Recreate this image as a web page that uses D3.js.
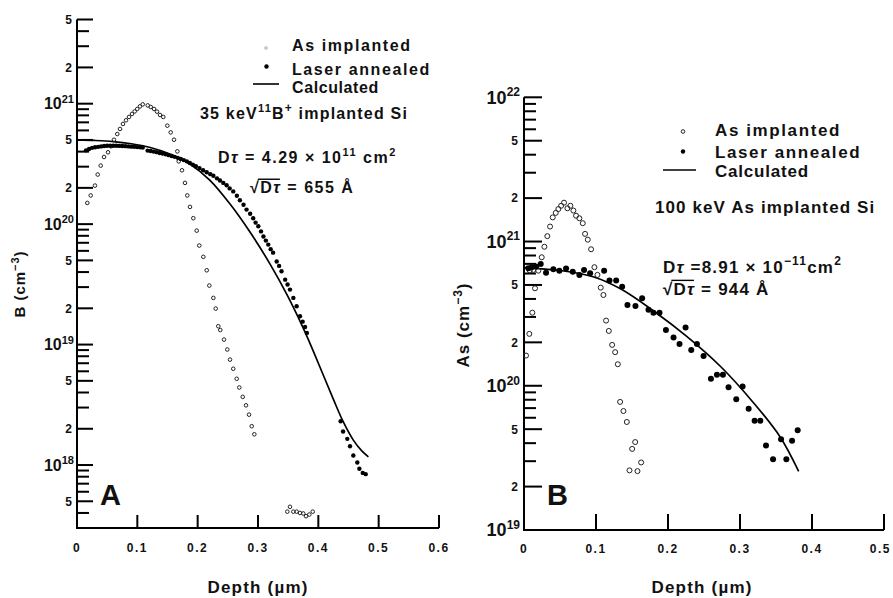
<!DOCTYPE html>
<html><head><meta charset="utf-8">
<script src="https://cdn.jsdelivr.net/npm/d3@7"></script>
<style>
body{margin:0;background:#fff}
text{font-family:"Liberation Sans",Arial,sans-serif;font-weight:bold;fill:#111}
</style>
</head><body>
<svg id="c" width="893" height="598"></svg>
<script>
// ---------------- DATA ----------------
// Panel A: 35 keV 11B+ implanted Si
const aImplDepth = [0.0171,0.0227,0.0298,0.0343,0.0393,0.0448,0.0514,0.0564,0.0613,0.0668,0.0713,0.0762,0.0812,0.0862,0.0912,0.0956,0.0999,0.1044,0.1089,0.1172,0.1222,0.1277,0.1326,0.1376,0.1430,0.1497,0.1553,0.1608,0.1663,0.1686,0.1740,0.1790,0.1828,0.1873,0.1928,0.1984,0.2027,0.2094,0.2150,0.2193,0.2260,0.2299,0.2342,0.2375,0.2437,0.2491,0.2536,0.2590,0.2647,0.2690,0.2747,0.2801,0.2851,0.2896,0.2939,0.3486,0.3530,0.3586,0.3640,0.3696,0.3750,0.3796,0.3850,0.3907];
const aImplConc  = [1.5e20,1.73e20,2.09e20,2.58e20,3.06e20,3.61e20,3.95e20,4.43e20,5.02e20,5.6e20,6.17e20,6.79e20,7.28e20,7.76e20,8.22e20,8.63e20,9.04e20,9.5e20,9.87e20,9.68e20,9.39e20,9.04e20,8.59e20,8.06e20,7.76e20,6.57e20,5.78e20,5.02e20,4.02e20,3.32e20,2.8e20,2.2e20,1.73e20,1.39e20,1.12e20,8.83e19,6.64e19,5.35e19,4.14e19,3.09e19,2.44e19,1.99e19,1.42e19,1.32e19,1.1e19,9.1e18,7.5e18,6.3e18,5.2e18,4.4e18,3.68e18,3.13e18,2.62e18,2.1e18,1.8e18,4.1e17,4.5e17,4.1e17,4.1e17,4.0e17,3.96e17,3.76e17,3.88e17,4.1e17];
const aLaserDepth = [0.015,0.020,0.025,0.030,0.035,0.040,0.045,0.050,0.055,0.060,0.065,0.070,0.075,0.080,0.085,0.090,0.095,0.100,0.105,0.109,0.117,0.122,0.127,0.132,0.137,0.142,0.147,0.152,0.157,0.162,0.167,0.172,0.177,0.182,0.187,0.192,0.197,0.203,0.209,0.215,0.221,0.226,0.232,0.237,0.2425,0.248,0.253,0.259,0.265,0.270,0.276,0.281,0.287,0.292,0.296,0.3005,0.305,0.309,0.313,0.317,0.321,0.325,0.331,0.335,0.339,0.345,0.349,0.353,0.3586,0.364,0.3696,0.374,0.378,0.381,0.437,0.441,0.448,0.4525,0.458,0.4646,0.468,0.4736,0.4785];
const aLaserConc  = [4.1e20,4.2e20,4.3e20,4.35e20,4.38e20,4.42e20,4.45e20,4.48e20,4.48e20,4.48e20,4.47e20,4.46e20,4.45e20,4.44e20,4.42e20,4.4e20,4.38e20,4.36e20,4.34e20,4.32e20,4.08e20,4.05e20,4.0e20,3.96e20,3.9e20,3.85e20,3.8e20,3.74e20,3.68e20,3.62e20,3.55e20,3.48e20,3.4e20,3.32e20,3.22e20,3.12e20,3.02e20,2.92e20,2.8e20,2.7e20,2.6e20,2.52e20,2.4e20,2.3e20,2.2e20,2.1e20,1.98e20,1.87e20,1.72e20,1.58e20,1.45e20,1.32e20,1.22e20,1.12e20,1.03e20,9.6e19,8.7e19,7.9e19,7.3e19,6.76e19,6.2e19,5.8e19,4.9e19,4.5e19,4.06e19,3.46e19,3.15e19,2.86e19,2.44e19,2.08e19,1.72e19,1.55e19,1.4e19,1.25e19,2.31e18,1.9e18,1.65e18,1.43e18,1.2e18,1.05e18,9.3e17,8.6e17,8.4e17];
const aCalcDepth = [0,0.03,0.06,0.09,0.12,0.154,0.187,0.22,0.254,0.287,0.32,0.348,0.375,0.392,0.425,0.441,0.458,0.472,0.483];
const aCalcConc  = [5.0e20,4.95e20,4.85e20,4.65e20,4.35e20,3.82e20,3.15e20,2.32e20,1.46e20,8.55e19,4.66e19,2.6e19,1.37e19,8.74e18,3.51e18,2.3e18,1.61e18,1.31e18,1.17e18];

// Panel B: 100 keV As implanted Si
const bImplDepth = [0.0028,0.0074,0.0116,0.0153,0.0080,0.0130,0.0199,0.0246,0.0283,0.0324,0.0362,0.0399,0.0441,0.0477,0.0515,0.0556,0.0603,0.0644,0.0686,0.0723,0.0769,0.0816,0.0848,0.0886,0.0932,0.0978,0.1020,0.1066,0.1103,0.1140,0.1178,0.1224,0.1266,0.1303,0.1335,0.1381,0.1428,0.1502,0.1544,0.1627,0.1465,0.1576];
const bImplConc  = [1.62e20,2.29e20,3.21e20,4.74e20,6.3e20,6.36e20,6.28e20,7.78e20,9.2e20,1.09e21,1.27e21,1.47e21,1.58e21,1.68e21,1.77e21,1.86e21,1.70e21,1.77e21,1.64e21,1.51e21,1.45e21,1.34e21,1.13e21,1.03e21,8.84e20,6.64e20,5.87e20,4.79e20,4.26e20,2.83e20,2.4e20,1.92e20,1.71e20,1.41e20,7.73e19,6.68e19,5.61e19,3.65e19,4.07e19,2.94e19,2.59e19,2.56e19];
const bLaserDepth = [0.0060,0.0107,0.0167,0.0232,0.0306,0.0408,0.0491,0.0584,0.0677,0.0769,0.0834,0.0918,0.1113,0.1187,0.1280,0.1363,0.1437,0.1548,0.1641,0.1729,0.1798,0.1882,0.1971,0.2077,0.2160,0.2244,0.2323,0.2402,0.2494,0.2596,0.2680,0.2763,0.2841,0.2948,0.3036,0.3120,0.3203,0.3282,0.3361,0.3459,0.3570,0.3644,0.3723,0.3801];
const bLaserConc  = [6.53e20,6.64e20,6.7e20,7.0e20,6.08e20,6.42e20,6.28e20,6.49e20,6.18e20,5.87e20,6.36e20,6.03e20,6.28e20,5.36e20,5.36e20,4.86e20,3.63e20,3.57e20,4.04e20,3.36e20,3.21e20,3.21e20,2.44e20,2.16e20,1.95e20,2.53e20,1.77e20,1.95e20,1.61e20,1.12e20,1.19e20,1.19e20,9.77e19,8.06e19,9.9e19,6.94e19,5.73e19,5.73e19,3.85e19,3.09e19,4.26e19,3.09e19,4.16e19,4.91e19];
const bCalcDepth = [0,0.05,0.096,0.134,0.18,0.226,0.273,0.319,0.356,0.3815];
const bCalcConc  = [6.6e20,6.3e20,5.7e20,4.7e20,3.3e20,2.2e20,1.36e20,7.6e19,4.4e19,2.55e19];

// Tick labels
const aXTicks = [0,0.1,0.2,0.3,0.4,0.5,0.6];
const aXTickLabels = ["0","0.1","0.2","0.3","0.4","0.5","0.6"];
const bXTicks = [0,0.1,0.2,0.3,0.4,0.5];
const bXTickLabels = ["0","0.1","0.2","0.3","0.4","0.5"];
const aYLabeled = [5e21,2e21,1e21,5e20,2e20,1e20,5e19,2e19,1e19,5e18,2e18,1e18,5e17];
const bYLabeled = [1e22,5e21,2e21,1e21,5e20,2e20,1e20,5e19,2e19,1e19];
const aYMinor = [4e21,3e21,9e20,8e20,7e20,6e20,4e20,3e20,9e19,8e19,7e19,6e19,4e19,3e19,9e18,8e18,7e18,6e18,4e18,3e18,9e17,8e17,7e17,6e17,4e17];
const bYMinor = [9e21,8e21,7e21,6e21,4e21,3e21,9e20,8e20,7e20,6e20,4e20,3e20,9e19,8e19,7e19,6e19,4e19,3e19];

// ---------------- DRAWING ----------------
const svg = d3.select("#c");
const INK = "#000";

function rich(g, x, y, parts, size, opts) {
  opts = opts || {};
  const t = g.append("text").attr("x", x).attr("y", y).attr("font-size", size);
  if (opts.anchor) t.attr("text-anchor", opts.anchor);
  if (opts.ls != null) t.attr("letter-spacing", opts.ls);
  if (opts.transform) t.attr("transform", opts.transform);
  let raise = 0;
  parts.forEach(p => {
    const s = t.append("tspan").text(p.t);
    const r = p.sup ? (p.raise || size * 0.42) : 0;
    s.attr("dy", -(r - raise));
    raise = r;
    if (p.sup) s.attr("font-size", p.size || size * 0.72);
    if (p.size && !p.sup) s.attr("font-size", p.size);
    if (p.it) s.attr("font-style", "italic");
  });
  return t;
}

function sqrtText(g, x, y, rest, size, ls) {
  const t = g.append("text").attr("x", x).attr("y", y).attr("font-size", size).attr("letter-spacing", ls);
  t.append("tspan").text("\u221A");
  t.append("tspan").text("D");
  t.append("tspan").attr("font-style", "italic").text("\u03C4");
  t.append("tspan").text(rest);
  const node = t.node();
  const e0 = node.getExtentOfChar(0), e2 = node.getExtentOfChar(2);
  const ly = y - size * 0.86;
  g.append("path").attr("d", `M${e0.x + e0.width - ls - 1},${ly}H${e2.x + e2.width - ls}`)
    .attr("stroke", INK).attr("stroke-width", 1.4).attr("fill", "none");
}

function panel(cfg) {
  const g = svg.append("g");
  const x = d3.scaleLinear().domain(cfg.xDomain).range(cfg.xRange);
  const y = d3.scaleLog().domain(cfg.yDomain).range(cfg.yRange);
  const x0 = x(0), yb = y(cfg.yDomain[0]);

  // ticks as small filled rectangles
  const yT = cfg.yLabeled.map(v => ({v: v, len: cfg.majorLen})).concat(cfg.yMinor.map(v => ({v: v, len: cfg.minorLen})));
  g.selectAll("rect.yt").data(yT).join("rect").attr("class", "yt")
    .attr("x", x0).attr("y", d => y(d.v) - 1).attr("width", d => d.len).attr("height", 2).attr("fill", INK);
  g.selectAll("rect.xt").data(cfg.xTicks.filter(v => v > 0)).join("rect").attr("class", "xt")
    .attr("x", d => x(d) - 1).attr("y", yb - cfg.xTickLen).attr("width", 2).attr("height", cfg.xTickLen).attr("fill", INK);
  // axis lines
  g.append("path").attr("d", `M${x0},${y(cfg.yDomain[1])}V${yb}H${x(cfg.xDomain[1])}`)
    .attr("fill", "none").attr("stroke", INK).attr("stroke-width", 2);

  // y labels
  cfg.yLabeled.forEach(v => {
    const e = Math.floor(Math.log10(v) + 1e-9), m = Math.round(v / Math.pow(10, e));
    if (m === 1) {
      rich(g, x0 - cfg.labelGap + 2, y(v) + cfg.decSize * 0.36,
        [{t: "10"}, {t: String(e), sup: true, size: cfg.expSize, raise: cfg.decSize * 0.42}], cfg.decSize, {anchor: "end"});
    } else {
      g.append("text").attr("x", x0 - cfg.labelGap).attr("y", y(v) + cfg.minSize * 0.36)
        .attr("text-anchor", "end").attr("font-size", cfg.minSize).text(String(m));
    }
  });
  // x labels
  cfg.xTicks.forEach((v, i) => {
    const t = g.append("text").attr("x", x(v)).attr("y", cfg.xLabelY).attr("text-anchor", "middle")
      .attr("font-size", 12).attr("letter-spacing", 1.5).text(cfg.xTickLabels[i]);
    const w = t.node().getComputedTextLength();
    if (x(v) + w / 2 > 891) t.attr("text-anchor", "end").attr("x", 891);
  });
  // axis titles
  rich(g, (cfg.xRange[0] + cfg.xRange[1]) / 2 + cfg.xTitleShift, 593, [{t: "Depth (\u00B5m)"}], 17, {anchor: "middle", ls: 1.2});
  rich(g, 0, 0, cfg.yTitle, cfg.yTitleSize, {anchor: "middle", ls: 1, transform: `translate(${cfg.yTitleX},${cfg.yTitleY}) rotate(-90)`});

  // data
  const line = d3.line().x(d => x(d[0])).y(d => y(d[1])).curve(d3.curveCatmullRom.alpha(0.5));
  g.append("path").datum(d3.zip(cfg.calcD, cfg.calcC)).attr("d", line)
    .attr("fill", "none").attr("stroke", INK).attr("stroke-width", 1.7);
  g.selectAll(".impl").data(d3.zip(cfg.implD, cfg.implC)).join("circle").attr("class", "impl")
    .attr("cx", d => x(d[0])).attr("cy", d => y(d[1])).attr("r", cfg.openR)
    .attr("fill", "none").attr("stroke", "#222").attr("stroke-width", 1);
  g.selectAll(".laser").data(d3.zip(cfg.laserD, cfg.laserC)).join("circle").attr("class", "laser")
    .attr("cx", d => x(d[0])).attr("cy", d => y(d[1])).attr("r", cfg.dotR).attr("fill", INK);

  g.append("text").attr("x", cfg.letterX).attr("y", cfg.letterY).attr("font-size", 29).text(cfg.letter);
  return g;
}

panel({
  xDomain: [0, 0.6], xRange: [77, 439], yDomain: [3e17, 5e21], yRange: [528, 19.5],
  xTicks: aXTicks, xTickLabels: aXTickLabels, yLabeled: aYLabeled, yMinor: aYMinor,
  minorLen: 12, majorLen: 16, xTickLen: 13, labelGap: 5, decSize: 16, expSize: 11, minSize: 12,
  xLabelY: 552, xTitleShift: 0,
  yTitle: [{t: "B  (cm"}, {t: "\u22123", sup: true, size: 11, raise: 6}, {t: ")"}], yTitleSize: 15, yTitleX: 25, yTitleY: 284,
  implD: aImplDepth, implC: aImplConc, laserD: aLaserDepth, laserC: aLaserConc, calcD: aCalcDepth, calcC: aCalcConc,
  openR: 1.8, dotR: 2.2, letter: "A", letterX: 100, letterY: 505
});
panel({
  xDomain: [0, 0.5], xRange: [524, 884], yDomain: [1e19, 1e22], yRange: [530, 97.3],
  xTicks: bXTicks, xTickLabels: bXTickLabels, yLabeled: bYLabeled, yMinor: bYMinor,
  minorLen: 12, majorLen: 18, xTickLen: 16, labelGap: 6, decSize: 18, expSize: 12, minSize: 12,
  xLabelY: 553, xTitleShift: -2,
  yTitle: [{t: "As  (cm"}, {t: "\u22123", sup: true, size: 12, raise: 7}, {t: ")"}], yTitleSize: 17, yTitleX: 469, yTitleY: 325,
  implD: bImplDepth, implC: bImplConc, laserD: bLaserDepth, laserC: bLaserConc, calcD: bCalcDepth, calcC: bCalcConc,
  openR: 2.5, dotR: 3, letter: "B", letterX: 547, letterY: 505
});

// Legends and annotations, panel A
const lA = svg.append("g");
lA.append("circle").attr("cx", 266).attr("cy", 48).attr("r", 1.3).attr("fill", "none").attr("stroke", "#999").attr("stroke-width", 0.8);
lA.append("circle").attr("cx", 266.5).attr("cy", 66.5).attr("r", 2.2).attr("fill", INK);
lA.append("path").attr("d", "M253,84H279").attr("stroke", INK).attr("stroke-width", 1.6);
rich(lA, 292, 51, [{t: "As implanted"}], 16, {ls: 1.6});
rich(lA, 292, 75, [{t: "Laser annealed"}], 16, {ls: 1.6});
rich(lA, 292, 93, [{t: "Calculated"}], 16, {ls: 0.6});
rich(lA, 200, 119, [{t: "35 keV"}, {t: "11", sup: true, size: 11, raise: 7}, {t: "B"}, {t: "+", sup: true, size: 12, raise: 7}, {t: " implanted Si"}], 16, {ls: 1.2});
rich(lA, 218, 163, [{t: "D"}, {t: "\u03C4", it: true}, {t: " = 4.29 \u00D7 10"}, {t: "11", sup: true, size: 11, raise: 7}, {t: "  cm"}, {t: "2", sup: true, size: 11, raise: 7}], 16, {ls: 1.5});
sqrtText(lA, 250, 193, " = 655 \u00C5", 16, 1.5);

// Legends and annotations, panel B
const lB = svg.append("g");
lB.append("circle").attr("cx", 683).attr("cy", 131.5).attr("r", 1.8).attr("fill", "none").attr("stroke", "#222").attr("stroke-width", 1);
lB.append("circle").attr("cx", 683).attr("cy", 151.5).attr("r", 2.2).attr("fill", INK);
lB.append("path").attr("d", "M663,170H696").attr("stroke", INK).attr("stroke-width", 1.6);
rich(lB, 715, 135.5, [{t: "As implanted"}], 17, {ls: 1.6});
rich(lB, 715, 158, [{t: "Laser annealed"}], 17, {ls: 1.6});
rich(lB, 715, 176.5, [{t: "Calculated"}], 17, {ls: 0.8});
rich(lB, 655, 212.5, [{t: "100 keV As implanted Si"}], 17, {ls: 1.1});
rich(lB, 663, 273, [{t: "D"}, {t: "\u03C4", it: true}, {t: " =8.91 \u00D7 10"}, {t: "\u221211", sup: true, size: 12, raise: 8}, {t: "cm"}, {t: "2", sup: true, size: 12, raise: 8}], 17, {ls: 1.2});
sqrtText(lB, 663, 295, " = 944 \u00C5", 17, 1.2);
</script>
</body></html>
